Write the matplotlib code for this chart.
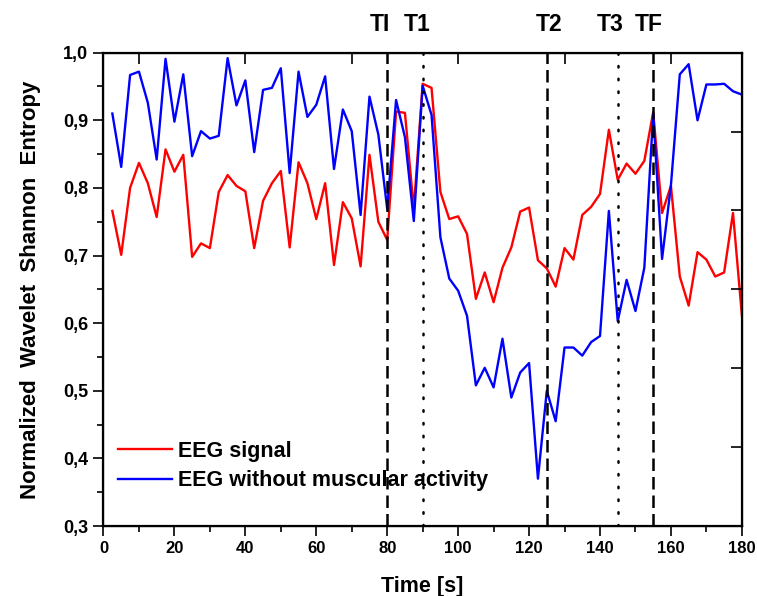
import numpy as np
import matplotlib
matplotlib.use('Agg')
import matplotlib.pyplot as plt
from matplotlib.ticker import FuncFormatter, MultipleLocator

plt.rcParams['font.family'] = ['Liberation Sans', 'DejaVu Sans']
plt.rcParams['font.weight'] = 'bold'

# time axis: one value every 2.5 s
time_s = np.arange(1, 73) * 2.5

eeg_signal = [0.766, 0.701, 0.800, 0.837, 0.807, 0.757, 0.857, 0.824, 0.849, 0.698,
              0.718, 0.711, 0.794, 0.819, 0.803, 0.795, 0.711, 0.781, 0.807, 0.825,
              0.712, 0.838, 0.807, 0.754, 0.807, 0.686, 0.779, 0.755, 0.684, 0.849,
              0.750, 0.723, 0.913, 0.911, 0.769, 0.954, 0.948, 0.794, 0.754, 0.758,
              0.732, 0.636, 0.675, 0.631, 0.682, 0.712, 0.765, 0.771, 0.693, 0.681,
              0.654, 0.711, 0.694, 0.760, 0.772, 0.791, 0.886, 0.812, 0.836, 0.821,
              0.840, 0.912, 0.763, 0.803, 0.669, 0.626, 0.705, 0.694, 0.669, 0.675,
              0.763, 0.612]

eeg_no_muscle = [0.910, 0.831, 0.967, 0.972, 0.926, 0.842, 0.991, 0.898, 0.968, 0.847,
                 0.884, 0.873, 0.877, 0.992, 0.922, 0.959, 0.853, 0.945, 0.948, 0.977,
                 0.822, 0.972, 0.905, 0.923, 0.965, 0.828, 0.916, 0.884, 0.760, 0.935,
                 0.879, 0.769, 0.930, 0.875, 0.751, 0.951, 0.908, 0.727, 0.666, 0.648,
                 0.611, 0.508, 0.534, 0.505, 0.577, 0.490, 0.527, 0.541, 0.370, 0.500,
                 0.455, 0.564, 0.564, 0.552, 0.572, 0.581, 0.766, 0.603, 0.664, 0.618,
                 0.682, 0.910, 0.695, 0.804, 0.968, 0.983, 0.900, 0.953, 0.953, 0.954,
                 0.943, 0.938]

marker_names = ['TI', 'T1', 'T2', 'T3', 'TF']
marker_times = [80, 90, 125, 145, 155]
marker_styles = ['dashed', 'dotted', 'dashed', 'dotted', 'dashed']
marker_label_x = [78, 88.5, 125.5, 142.8, 153.8]

fig = plt.figure(figsize=(7.57, 5.96), dpi=100)
ax = fig.add_axes([0.1367, 0.1174, 0.8433, 0.7942])

ax.plot(time_s, eeg_signal, color='#ff0000', lw=1.7, label='EEG signal')
ax.plot(time_s, eeg_no_muscle, color='#0000ff', lw=1.7, label='EEG without muscular activity')

for t, st in zip(marker_times, marker_styles):
    if st == 'dashed':
        ax.axvline(t, color='black', lw=1.8, ls=(0, (5, 2.4)))
    else:
        ax.axvline(t, color='black', lw=1.8, ls=(0, (0.6, 4.5)), dash_capstyle='round')

for name, lx in zip(marker_names, marker_label_x):
    ax.text(lx, 1.0585, name, ha='center', va='center', fontsize=16.5, fontweight='bold',
            transform=ax.get_xaxis_transform())

ax.set_xlim(0, 180)
ax.set_ylim(0.3, 1.0)
ax.xaxis.set_major_locator(MultipleLocator(20))
ax.xaxis.set_minor_locator(MultipleLocator(10))
ax.yaxis.set_major_locator(MultipleLocator(0.1))
ax.yaxis.set_minor_locator(MultipleLocator(0.05))
ax.yaxis.set_major_formatter(FuncFormatter(lambda v, p: f'{v:.1f}'.replace('.', ',')))
ax.tick_params(which='major', direction='out', length=7, width=1.2, labelsize=12, pad=4)
ax.tick_params(axis='y', which='major', labelsize=13)
ax.tick_params(which='minor', direction='out', length=4, width=1.2)
for lbl in ax.get_xticklabels() + ax.get_yticklabels():
    lbl.set_fontweight('bold')
for sp in ax.spines.values():
    sp.set_linewidth(1.6)

ax.set_xlabel('Time [s]', fontsize=15.5, fontweight='bold', labelpad=14)
ax.set_ylabel('Normalized  Wavelet  Shannon  Entropy', fontsize=16, fontweight='bold', labelpad=16)

# extra inward ticks on top and right frame
top = ax.twiny()
top.set_xlim(0, 180)
top.set_xticks([10, 40, 70, 100, 130, 160])
top.tick_params(direction='in', length=8, width=1.2, labeltop=False)
right = ax.twinx()
right.set_ylim(0, 6)
right.set_yticks([1, 2, 3, 4, 5])
right.tick_params(direction='in', length=8, width=1.2, labelright=False)

leg = ax.legend(loc='upper left', bbox_to_anchor=(0.0227, 0.180), frameon=False,
                borderpad=0, borderaxespad=0, handlelength=2.5, handletextpad=0.3,
                labelspacing=0.39, prop={'weight': 'bold', 'size': 15.5})

fig.savefig('out.png', dpi=100)
